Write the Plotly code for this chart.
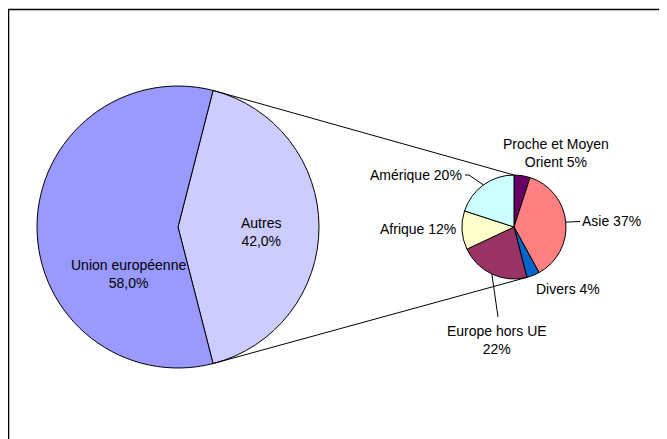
import math
import plotly.graph_objects as go

# main pie
main_labels = ["Autres", "Union européenne"]
main_values = [42.0, 58.0]
main_colors = ["#CCCCFF", "#9999FF"]

# detail of "Autres"
sub_labels = ["Proche et Moyen Orient", "Asie", "Divers", "Europe hors UE", "Afrique", "Amérique"]
sub_values = [5, 37, 4, 22, 12, 20]
sub_colors = ["#660066", "#FF8080", "#0066CC", "#993366", "#FFFFCC", "#CCFFFF"]

PAGE = 8  # the page body margin pushes the figure 8px right and down
W, H = 667 - PAGE, 439 - PAGE
FONT = "Liberation Sans, Arial, sans-serif"

# pie geometry in page pixels (centre x, centre y, radius)
MAIN = (178, 227, 141)
SUB = (514, 227, 52)
main_rot = 90 - 360 * main_values[0] / 100 / 2  # "Autres" centred on 3 o'clock


def px(x):
    return (x - PAGE) / W


def py(y):
    return 1 - (y - PAGE) / H


def on_circle(pie, deg):
    cx, cy, r = pie
    a = math.radians(deg)
    return cx + r * math.sin(a), cy - r * math.cos(a)


def domain(pie):
    cx, cy, r = pie
    return dict(x=[px(cx - r), px(cx + r)], y=[py(cy + r), py(cy - r)])


fig = go.Figure()
fig.add_trace(go.Pie(labels=main_labels, values=main_values, sort=False,
                     direction="clockwise", rotation=main_rot,
                     marker=dict(colors=main_colors, line=dict(color="black", width=1)),
                     textinfo="none", hoverinfo="label+percent",
                     domain=domain(MAIN)))
fig.add_trace(go.Pie(labels=sub_labels, values=sub_values, sort=False,
                     direction="clockwise", rotation=0,
                     marker=dict(colors=sub_colors, line=dict(color="black", width=1)),
                     textinfo="none", hoverinfo="label+percent",
                     domain=domain(SUB)))

shapes = []
line = dict(color="black", width=1)

# connector lines between the two pies
tot = sum(sub_values)
bottom_deg = 360 * sum(sub_values[:3]) / tot
for a_main, a_sub in [(main_rot, 0), (180 - main_rot, bottom_deg)]:
    x0, y0 = on_circle(MAIN, a_main)
    x1, y1 = on_circle(SUB, a_sub)
    shapes.append(dict(type="line", xref="paper", yref="paper",
                       x0=px(x0), y0=py(y0), x1=px(x1), y1=py(y1), line=line))


def mid_deg(i):
    return 360 * (sum(sub_values[:i]) + sub_values[i] / 2) / tot


def leader(points):
    d = "M " + " L ".join(f"{px(x)},{py(y)}" for x, y in points)
    shapes.append(dict(type="path", xref="paper", yref="paper", path=d, line=line))


# leader lines (Asie, Europe hors UE, Amérique)
leader([on_circle(SUB, mid_deg(1)), (580, 221.5)])
leader([on_circle(SUB, mid_deg(3)), (498, 317)])
leader([on_circle(SUB, mid_deg(5)), (469, 175), (465, 175)])

# frame (runs off the right and bottom edges)
shapes.append(dict(type="rect", xref="paper", yref="paper",
                   x0=px(8.5), y0=py(470), x1=px(700), y1=py(9.5),
                   line=dict(color="black", width=1.5)))


def pct1(v):
    return f"{v:.1f}".replace(".", ",") + "%"


ann_text = [
    (f"{main_labels[1]}<br>{pct1(main_values[1])}", 128, 274),
    (f"{main_labels[0]}<br>{pct1(main_values[0])}", 261, 232),
    (f"Proche et Moyen<br>Orient {sub_values[0]}%", 556, 153),
    (f"{sub_labels[1]} {sub_values[1]}%", 611.5, 221),
    (f"{sub_labels[2]} {sub_values[2]}%", 568, 289),
    (f"{sub_labels[3]}<br>{sub_values[3]}%", 497.5, 340),
    (f"{sub_labels[4]} {sub_values[4]}%", 418, 229),
    (f"{sub_labels[5]} {sub_values[5]}%", 415.5, 175),
]
annotations = [dict(text=t, x=px(x), y=py(y), xref="paper", yref="paper",
                    xanchor="center", yanchor="middle", showarrow=False,
                    font=dict(family=FONT, size=14, color="black"))
               for t, x, y in ann_text]

fig.update_layout(width=W, height=H, margin=dict(l=0, r=0, t=0, b=0),
                  paper_bgcolor="white", plot_bgcolor="white",
                  showlegend=False, shapes=shapes, annotations=annotations,
                  font=dict(family=FONT, size=14, color="black"))

fig.write_html("out.html")
